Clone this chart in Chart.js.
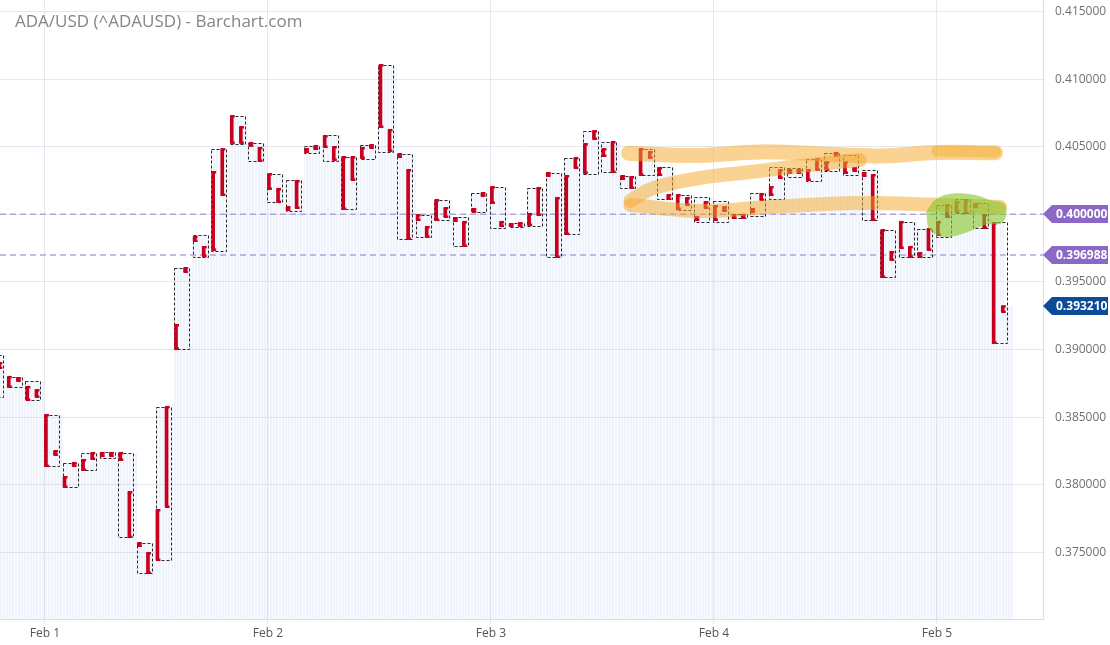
<!DOCTYPE html>
<html>
<head>
<meta charset="utf-8">
<title>ADA/USD (^ADAUSD) - Barchart.com</title>
<script src="https://cdn.jsdelivr.net/npm/chart.js@4.4.1/dist/chart.umd.min.js"></script>
<style>
  html, body { margin: 0; padding: 0; background: #fff; }
  #wrap { position: relative; width: 1110px; height: 645px; }
  #title { position: absolute; left: 15px; top: 9px; font: 17px 'Open Sans', sans-serif; color: #858585; pointer-events: none; }
</style>
</head>
<body>
<div id="wrap">
  <canvas id="chart" width="1110" height="645"></canvas>
  <div id="title">ADA/USD (^ADAUSD) - Barchart.com</div>
</div>
<script>
// hours since Feb 1 00:00, one box every 2 hours
const barTimes = [-6, -4, -2, 0, 2, 4, 6, 8, 10, 12, 14, 16, 18, 20, 22, 24, 26, 28, 30, 32, 34, 36, 38, 40, 42, 44, 46, 48, 50, 52, 54,
  56, 58, 60, 62, 64, 66, 68, 70, 72, 74, 76, 78, 80, 82, 84, 86, 88, 90, 92, 94, 96, 98, 100, 102];

// dashed box: high / low of each 2h bar
const boxHigh = [0.38960, 0.38798, 0.38768, 0.38517, 0.38162, 0.38236, 0.38243, 0.38236, 0.37570, 0.38576, 0.39603, 0.39847, 0.40483,
  0.40727, 0.40528, 0.40298, 0.40254, 0.40506, 0.40587, 0.40424, 0.40513, 0.41104, 0.40446, 0.39995, 0.40106, 0.39981, 0.40158,
  0.40202, 0.39936, 0.40195, 0.40306, 0.40417, 0.40616, 0.40535, 0.40284, 0.40483, 0.40350, 0.40143, 0.40128, 0.40099, 0.40003,
  0.40158, 0.40350, 0.40343, 0.40409, 0.40454, 0.40439, 0.40328, 0.39884, 0.39944, 0.39892, 0.40069, 0.40114, 0.40084, 0.39944];
const boxLow = [0.38650, 0.38724, 0.38627, 0.38139, 0.37984, 0.38110, 0.38199, 0.37614, 0.37348, 0.37444, 0.39005, 0.39685, 0.39729,
  0.40520, 0.40395, 0.40091, 0.40025, 0.40454, 0.40395, 0.40040, 0.40409, 0.40461, 0.39818, 0.39833, 0.39958, 0.39766, 0.40018,
  0.39899, 0.39907, 0.39914, 0.39685, 0.39855, 0.40298, 0.40313, 0.40195, 0.40291, 0.40114, 0.40032, 0.39944, 0.39944, 0.39973,
  0.39988, 0.40114, 0.40276, 0.40247, 0.40321, 0.40291, 0.39958, 0.39537, 0.39685, 0.39685, 0.39833, 0.40010, 0.39899, 0.39049];

// red legs: first hour (A) and second hour (B) of each box
const legAHigh = [0.38923, 0.38798, 0.38724, 0.38517, 0.38058, 0.38184, 0.38236, 0.38236, 0.37570, 0.37814, 0.39182, 0.39833, 0.40313,
  0.40727, 0.40528, 0.40298, 0.40054, 0.40483, 0.40579, 0.40424, 0.40491, 0.41104, 0.40446, 0.39995, 0.40106, 0.39973, 0.40040,
  0.40202, 0.39929, 0.40003, 0.40306, 0.40284, 0.40520, 0.40483, 0.40284, 0.40483, 0.40343, 0.40143, 0.39981, 0.40062, 0.39995,
  0.40040, 0.40202, 0.40328, 0.40328, 0.40387, 0.40387, 0.40306, 0.39884, 0.39944, 0.39714, 0.39944, 0.40091, 0.40077, 0.39936];
const legALow = [0.38664, 0.38724, 0.38627, 0.38139, 0.37984, 0.38110, 0.38213, 0.38184, 0.37548, 0.37444, 0.39005, 0.39803, 0.39737,
  0.40528, 0.40506, 0.40188, 0.40032, 0.40461, 0.40498, 0.40040, 0.40417, 0.40646, 0.40424, 0.39958, 0.39958, 0.39951, 0.40018,
  0.40084, 0.39914, 0.39921, 0.40284, 0.39855, 0.40306, 0.40432, 0.40262, 0.40291, 0.40291, 0.40040, 0.39958, 0.39958, 0.39973,
  0.40018, 0.40143, 0.40306, 0.40254, 0.40328, 0.40306, 0.40284, 0.39537, 0.39751, 0.39685, 0.39847, 0.40018, 0.40054, 0.39049];
const legBHigh = [0.38901, 0.38790, 0.38701, 0.38250, 0.38162, 0.38236, 0.38236, 0.37947, 0.37496, 0.38576, 0.39603, 0.39759, 0.40483,
  0.40646, 0.40491, 0.40188, 0.40247, 0.40506, 0.40498, 0.40424, 0.40513, 0.40624, 0.40328, 0.39907, 0.40047, 0.39944, 0.40158,
  0.39944, 0.39936, 0.40195, 0.40121, 0.40417, 0.40616, 0.40535, 0.40276, 0.40461, 0.40143, 0.40121, 0.40091, 0.40054, 0.39995,
  0.40151, 0.40328, 0.40328, 0.40409, 0.40454, 0.40343, 0.40291, 0.39722, 0.39759, 0.39892, 0.40069, 0.40106, 0.39995, 0.39321];
const legBLow = [0.38864, 0.38768, 0.38650, 0.38221, 0.38139, 0.38191, 0.38213, 0.37614, 0.37348, 0.37836, 0.39574, 0.39692, 0.40143,
  0.40528, 0.40395, 0.40091, 0.40047, 0.40483, 0.40402, 0.40254, 0.40491, 0.40469, 0.39818, 0.39833, 0.39981, 0.39766, 0.40136,
  0.39914, 0.39914, 0.39995, 0.39685, 0.40343, 0.40557, 0.40313, 0.40195, 0.40417, 0.40114, 0.40069, 0.40047, 0.40025, 0.39973,
  0.40106, 0.40269, 0.40306, 0.40328, 0.40432, 0.40321, 0.39958, 0.39663, 0.39685, 0.39737, 0.39981, 0.40010, 0.39899, 0.39278];

const lastPrice = 0.39321;
const lastPriceTimes = [103.2, 104.2];
const levelLines = [0.400000, 0.396988];

const dayTicks = [0, 24, 48, 72, 96];
const dayLabels = ['Feb 1', 'Feb 2', 'Feb 3', 'Feb 4', 'Feb 5'];
const priceTicks = [0.375, 0.380, 0.385, 0.390, 0.395, 0.400, 0.405, 0.410, 0.415];

// hand drawn highlighter marks [hour, price]
const orangeTop = [[62.8, 0.40452], [70, 0.40435], [77, 0.40462], [83, 0.40448], [90, 0.40432], [96, 0.40458], [102.3, 0.40455]];
const orangeTopRight = [[96, 0.40468], [102.3, 0.40460]];
const orangeMid = [[63.0, 0.40100], [65.4, 0.40192], [70.5, 0.40269], [75.9, 0.40313], [81.3, 0.40358], [87.7, 0.40402]];
const orangeLow = [[63.0, 0.40069], [70.5, 0.40025], [78, 0.40055], [87.7, 0.40084], [96.3, 0.40069], [102.8, 0.40055]];
const greenBlob = [[94.82, 0.40018], [95.78, 0.40106], [97.40, 0.40151], [100.09, 0.40143], [101.70, 0.40106], [103.32, 0.40069],
  [103.10, 0.39944], [101.16, 0.39921], [99.01, 0.39862], [96.86, 0.39833], [95.24, 0.39884], [94.82, 0.40018]];

const xMin = -4.843, xMax = 107.41;
const yMin = 0.37008, yMax = 0.41585;

const RED = '#c8001e';

function stripes() {
    const c = document.createElement('canvas');
    c.width = 3; c.height = 1;
    const g = c.getContext('2d');
    g.fillStyle = 'rgba(195,210,238,0.26)';
    g.fillRect(0, 0, 2, 1);
    g.fillStyle = 'rgba(195,210,238,0.06)';
    g.fillRect(2, 0, 1, 1);
    return g.createPattern(c, 'repeat');
}

const fillPoints = barTimes.map((t, i) => ({ x: t - 0.1, y: boxHigh[i] }));
lastPriceTimes.forEach(t => fillPoints.push({ x: t, y: lastPrice }));

function mark(points, color, width, order) {
    return {
        type: 'line',
        data: points.map(p => ({ x: p[0], y: p[1] })),
        borderColor: color,
        borderWidth: width,
        borderCapStyle: 'round',
        borderJoinStyle: 'round',
        tension: 0.4,
        pointRadius: 0,
        fill: false,
        order: order
    };
}

const candlePainter = {
    id: 'candlePainter',
    afterDatasetDraw(chart, args) {
        const ds = chart.data.datasets[args.index];
        const ctx = chart.ctx;
        if (ds.label === 'range') {
            ctx.save();
            ctx.strokeStyle = '#2a2a2a';
            ctx.lineWidth = 1;
            ctx.setLineDash([3, 2]);
            args.meta.data.forEach(el => {
                const p = el.getProps(['x', 'y', 'base', 'width'], true);
                const top = Math.round(Math.min(p.y, p.base)) + 0.5;
                const bottom = Math.round(Math.max(p.y, p.base)) + 0.5;
                const left = Math.round(p.x - p.width / 2) + 0.5;
                ctx.strokeRect(left, top, Math.round(p.width), bottom - top);
            });
            ctx.restore();
        }
        if (ds.label === 'legA' || ds.label === 'legB') {
            ctx.save();
            ctx.fillStyle = RED;
            args.meta.data.forEach(el => {
                const p = el.getProps(['x', 'y', 'base', 'width'], true);
                const left = p.x - p.width / 2;
                ctx.fillRect(left, Math.min(p.y, p.base) - 1, 4.5, 2.5);
                ctx.fillRect(left, Math.max(p.y, p.base) - 1.5, 4.5, 2.5);
            });
            ctx.restore();
        }
    }
};

const priceTags = {
    id: 'priceTags',
    afterDraw(chart) {
        const ctx = chart.ctx;
        const yScale = chart.scales.y;
        const x0 = chart.chartArea.right;
        const tags = levelLines.map(v => ({ v: v, color: '#8b67c8' }));
        tags.push({ v: lastPrice, color: '#0c4b97' });
        ctx.save();
        tags.forEach(tag => {
            const y = Math.round(yScale.getPixelForValue(tag.v));
            ctx.fillStyle = tag.color;
            ctx.beginPath();
            ctx.moveTo(x0, y);
            ctx.lineTo(x0 + 9, y - 9);
            ctx.lineTo(1108, y - 9);
            ctx.lineTo(1108, y + 9);
            ctx.lineTo(x0 + 9, y + 9);
            ctx.closePath();
            ctx.fill();
            ctx.fillStyle = '#fff';
            ctx.font = "bold 12px 'Open Sans', sans-serif";
            ctx.textBaseline = 'middle';
            ctx.textAlign = 'left';
            ctx.fillText(tag.v.toFixed(6), x0 + 13, y + 1);
        });
        ctx.restore();
    }
};

Chart.defaults.font.family = "'Open Sans', sans-serif";

const ctx = document.getElementById('chart').getContext('2d');
const chart = new Chart(ctx, {
    type: 'bar',
    data: {
        datasets: [
            {
                type: 'line',
                label: 'area',
                data: fillPoints,
                stepped: true,
                fill: 'start',
                backgroundColor: stripes(),
                borderWidth: 0,
                pointRadius: 0,
                order: 20
            },
            ...levelLines.map(v => ({
                type: 'line',
                data: [{ x: xMin, y: v }, { x: xMax, y: v }],
                borderColor: '#b3a3dd',
                borderWidth: 1.5,
                borderDash: [6, 4],
                pointRadius: 0,
                fill: false,
                order: 15
            })),
            {
                label: 'range',
                data: barTimes.map((t, i) => ({ x: t + 0.7, y: [boxLow[i], boxHigh[i]] })),
                backgroundColor: 'rgba(0,0,0,0)',
                borderWidth: 0,
                barThickness: 15,
                stack: 'one',
                order: 10
            },
            {
                label: 'legA',
                data: barTimes.map((t, i) => ({ x: t + 0.1, y: [legALow[i], legAHigh[i]] })),
                backgroundColor: RED,
                borderWidth: 0,
                barThickness: 3,
                stack: 'one',
                order: 9
            },
            {
                label: 'legB',
                data: barTimes.map((t, i) => ({ x: t + 1.08, y: [legBLow[i], legBHigh[i]] })),
                backgroundColor: RED,
                borderWidth: 0,
                barThickness: 3,
                stack: 'one',
                order: 9
            },
            mark(orangeTop, 'rgba(245,168,40,0.5)', 15, 4),
            mark(orangeTopRight, 'rgba(245,168,40,0.45)', 11, 3),
            mark(orangeMid, 'rgba(245,168,40,0.5)', 14, 4),
            mark(orangeLow, 'rgba(245,168,40,0.5)', 14, 4),
            {
                type: 'line',
                data: greenBlob.map(p => ({ x: p[0], y: p[1] })),
                fill: 'shape',
                backgroundColor: 'rgba(135,198,45,0.62)',
                borderWidth: 0,
                tension: 0.4,
                pointRadius: 0,
                order: 1
            }
        ]
    },
    options: {
        responsive: false,
        animation: false,
        events: [],
        layout: { padding: 0 },
        plugins: {
            legend: { display: false },
            tooltip: { enabled: false }
        },
        scales: {
            x: {
                type: 'linear',
                min: xMin,
                max: xMax,
                offset: false,
                grid: { color: '#e6e6f0', offset: false, tickLength: 5 },
                border: { color: '#dcdce8' },
                afterBuildTicks: (scale) => { scale.ticks = dayTicks.map(v => ({ value: v })); },
                afterFit: (scale) => {
                    scale.height = 26;
                    scale.paddingLeft = 0;
                    scale.paddingRight = 0;
                },
                ticks: {
                    autoSkip: false,
                    maxRotation: 0,
                    padding: 2,
                    color: '#555',
                    font: { size: 12 },
                    callback: (value, index) => dayLabels[index]
                }
            },
            y: {
                type: 'linear',
                position: 'right',
                min: yMin,
                max: yMax,
                stacked: false,
                grid: { color: '#e6e6f0', drawTicks: false },
                border: { color: '#dcdce8' },
                afterBuildTicks: (scale) => { scale.ticks = priceTicks.map(v => ({ value: v })); },
                afterFit: (scale) => {
                    scale.width = 67;
                    scale.paddingTop = 0;
                    scale.paddingBottom = 0;
                },
                ticks: {
                    padding: 12,
                    color: '#707070',
                    font: { size: 12 },
                    callback: (value) => value.toFixed(6)
                }
            }
        }
    },
    plugins: [candlePainter, priceTags]
});
</script>
</body>
</html>
